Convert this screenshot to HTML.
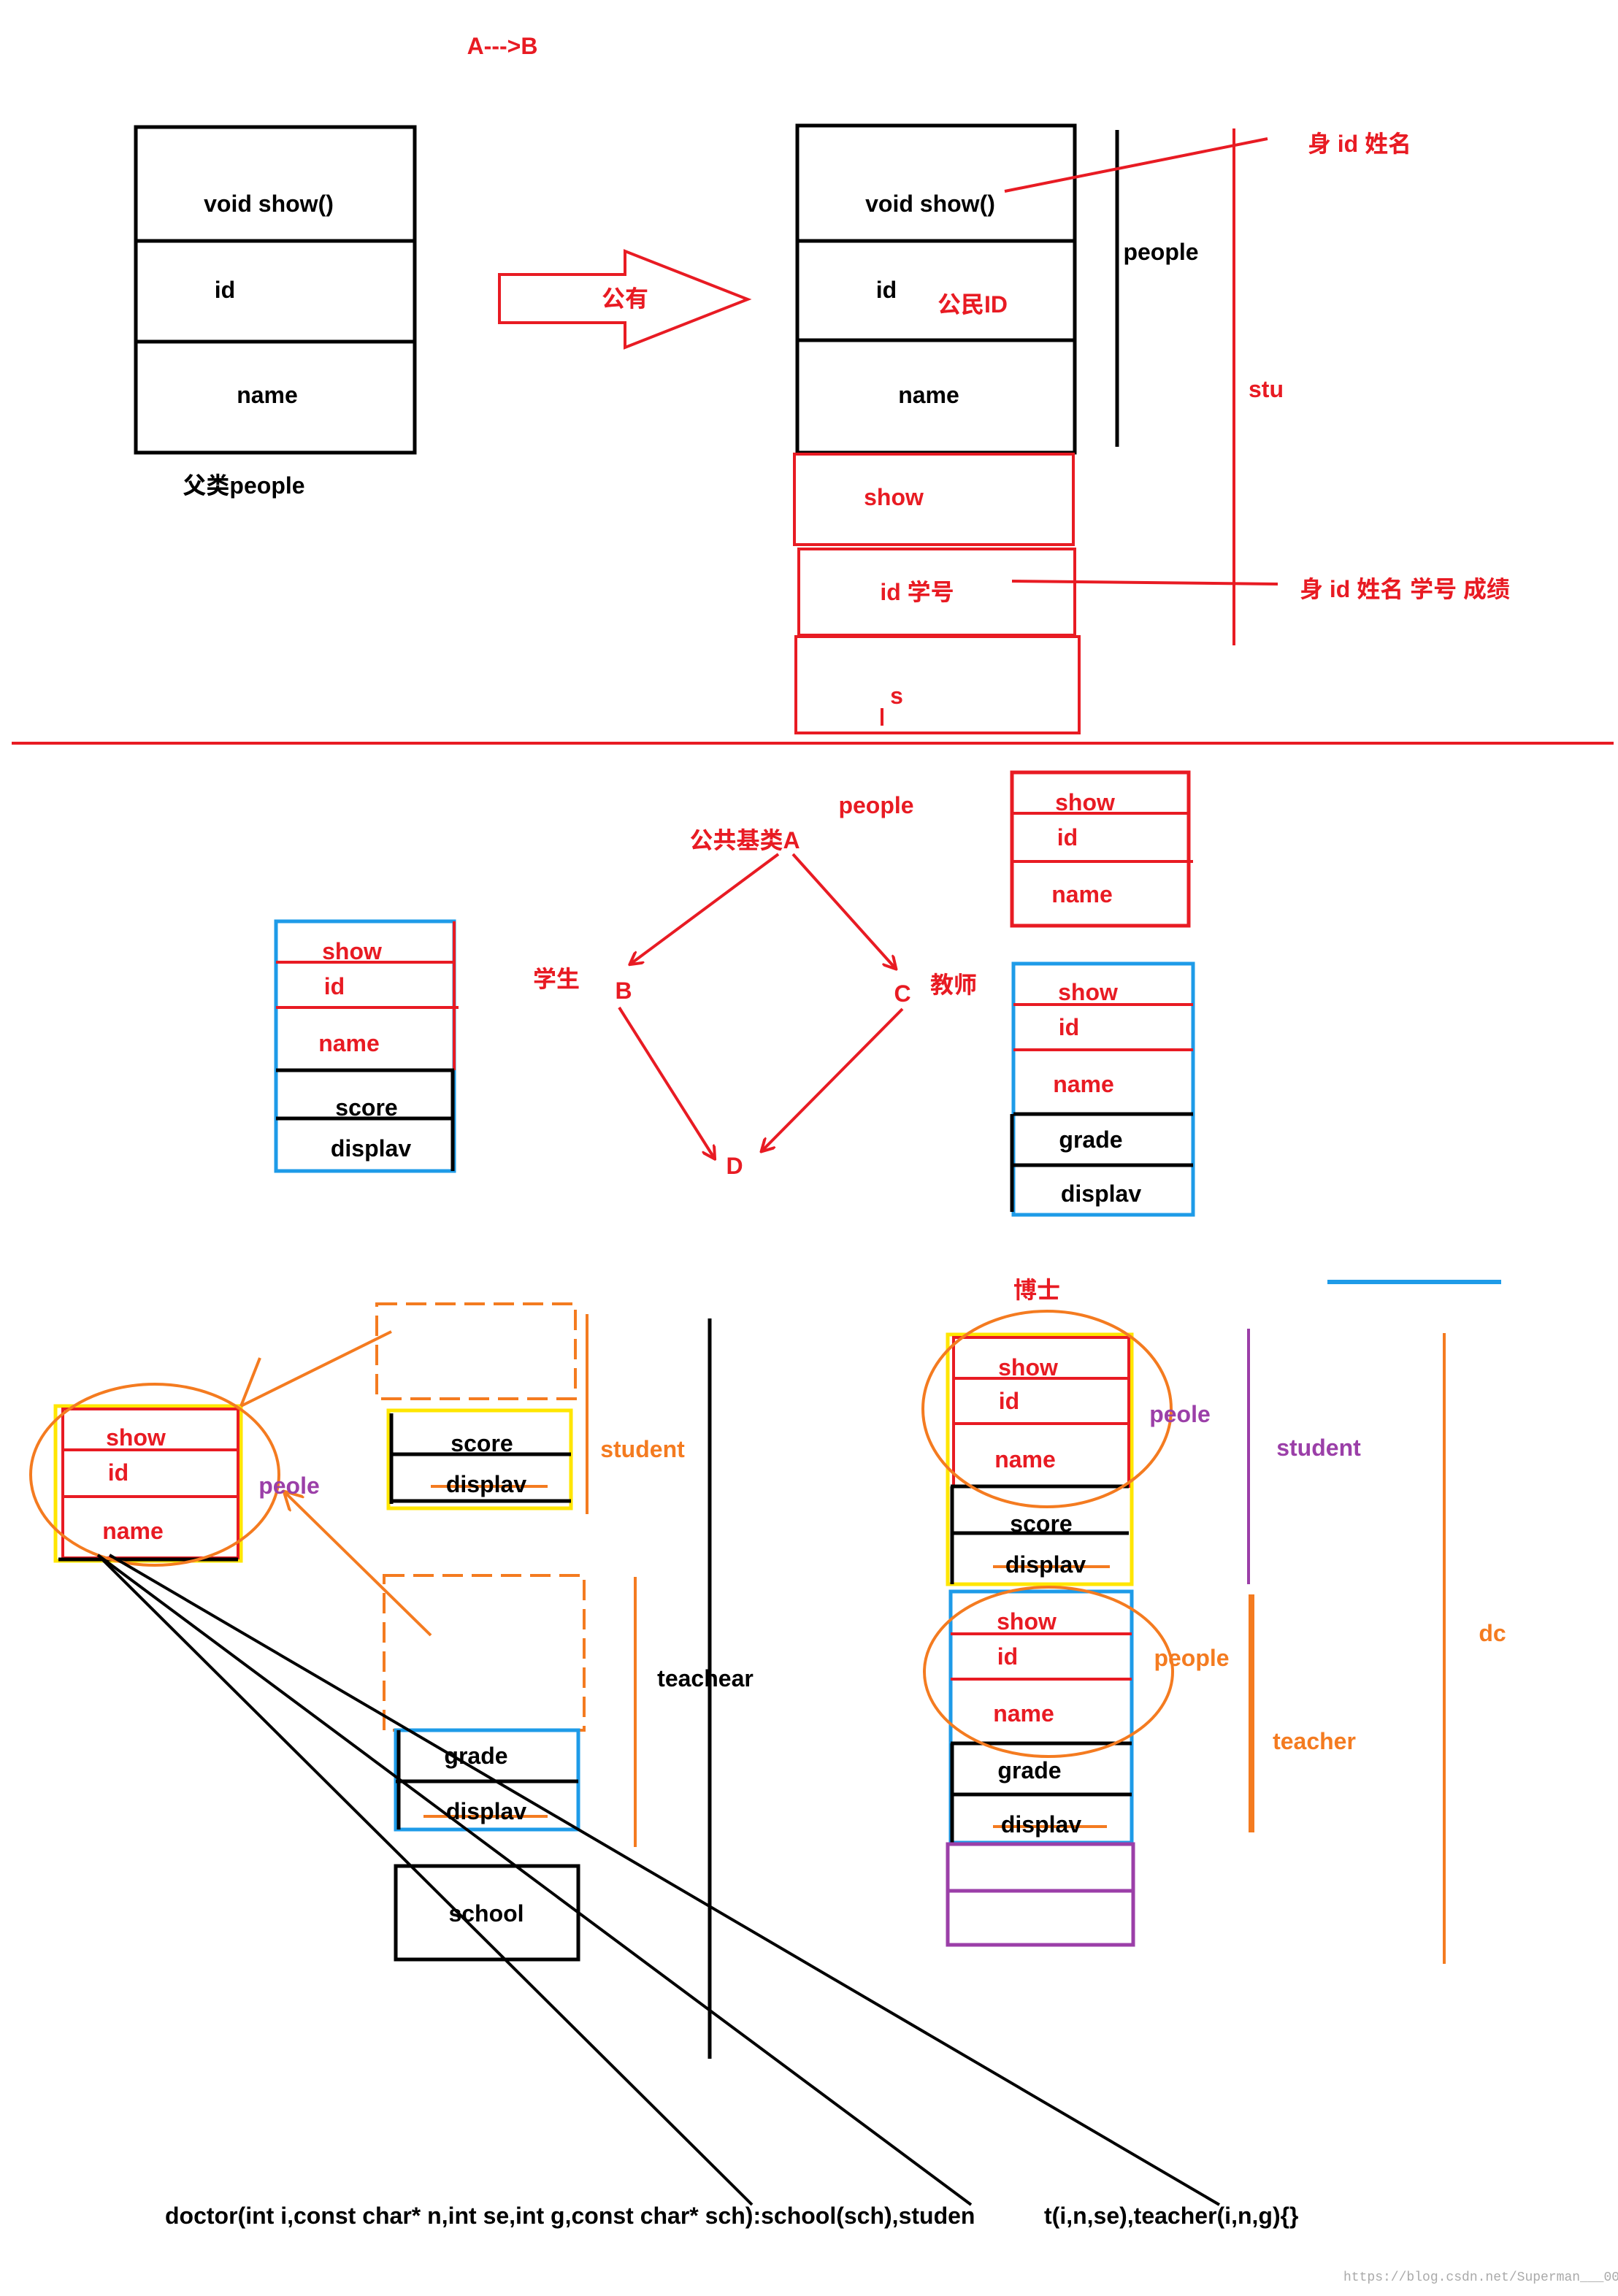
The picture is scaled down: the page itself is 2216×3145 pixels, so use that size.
<!DOCTYPE html>
<html><head><meta charset="utf-8"><style>
html,body{margin:0;padding:0;background:#fff;}
svg{display:block;}
text{font-family:"Liberation Sans","Noto Sans CJK SC",sans-serif;font-weight:bold;font-size:16px;}
</style></head><body>
<svg width="2216" height="3145" viewBox="0 0 1108 1572.5" xmlns="http://www.w3.org/2000/svg">
<defs>
<marker id="ar" markerWidth="10" markerHeight="10" refX="8" refY="5" orient="auto" markerUnits="userSpaceOnUse"><path d="M0,0 L9,5 L0,10" fill="none" stroke="#e81b23" stroke-width="2"/></marker>
<marker id="ao" markerWidth="14" markerHeight="14" refX="12" refY="7" orient="auto" markerUnits="userSpaceOnUse"><path d="M0,0 L13,7 L0,14" fill="none" stroke="#f47b20" stroke-width="2"/></marker>
</defs>
<g fill="none" stroke-width="2.5">
<!-- top -->
<rect x="93" y="87" width="191" height="223" stroke="#000"/>
<line x1="93" y1="165" x2="284" y2="165" stroke="#000"/><line x1="93" y1="234" x2="284" y2="234" stroke="#000"/>
<polygon points="342,188 428,188 428,172 512,205 428,238 428,221 342,221" stroke="#e81b23" stroke-width="2"/>
<rect x="546" y="86" width="190" height="224" stroke="#000"/>
<line x1="546" y1="165" x2="736" y2="165" stroke="#000"/><line x1="546" y1="233" x2="736" y2="233" stroke="#000"/>
<line x1="765" y1="89" x2="765" y2="306" stroke="#000"/>
<line x1="688" y1="131" x2="868" y2="95" stroke="#e81b23" stroke-width="2"/>
<rect x="544" y="311" width="191" height="62" stroke="#e81b23" stroke-width="2"/>
<rect x="547" y="376" width="189" height="59" stroke="#e81b23" stroke-width="2"/>
<rect x="545" y="436" width="194" height="66" stroke="#e81b23" stroke-width="2"/>
<line x1="604" y1="485" x2="604" y2="497" stroke="#e81b23" stroke-width="2"/>
<line x1="693" y1="398" x2="875" y2="400" stroke="#e81b23" stroke-width="2"/>
<line x1="845" y1="88" x2="845" y2="442" stroke="#e81b23" stroke-width="2"/>
<line x1="8" y1="509" x2="1105" y2="509" stroke="#e81b23" stroke-width="2"/>
<!-- middle -->
<line x1="533" y1="585" x2="432" y2="660" stroke="#e81b23" stroke-width="2" marker-end="url(#ar)"/>
<line x1="543" y1="585" x2="613" y2="663" stroke="#e81b23" stroke-width="2" marker-end="url(#ar)"/>
<line x1="424" y1="690" x2="489" y2="793" stroke="#e81b23" stroke-width="2" marker-end="url(#ar)"/>
<line x1="618" y1="691" x2="522" y2="788" stroke="#e81b23" stroke-width="2" marker-end="url(#ar)"/>
<rect x="189" y="631" width="122" height="171" stroke="#1e9be8"/>
<line x1="189" y1="659" x2="311" y2="659" stroke="#e81b23" stroke-width="2"/><line x1="189" y1="690" x2="314" y2="690" stroke="#e81b23" stroke-width="2"/>
<line x1="311" y1="631" x2="311" y2="733" stroke="#e81b23" stroke-width="2"/>
<line x1="189" y1="733" x2="311" y2="733" stroke="#000"/><line x1="189" y1="766" x2="311" y2="766" stroke="#000"/>
<line x1="310" y1="733" x2="310" y2="802" stroke="#000"/>
<rect x="693" y="529" width="121" height="105" stroke="#e81b23"/>
<line x1="693" y1="557" x2="814" y2="557" stroke="#e81b23" stroke-width="2"/><line x1="693" y1="590" x2="817" y2="590" stroke="#e81b23" stroke-width="2"/>
<rect x="694" y="660" width="123" height="172" stroke="#1e9be8"/>
<line x1="694" y1="688" x2="817" y2="688" stroke="#e81b23" stroke-width="2"/><line x1="694" y1="719" x2="817" y2="719" stroke="#e81b23" stroke-width="2"/>
<line x1="694" y1="763" x2="817" y2="763" stroke="#000"/><line x1="694" y1="798" x2="817" y2="798" stroke="#000"/>
<line x1="693" y1="763" x2="693" y2="830" stroke="#000"/>
<!-- bottom left -->
<rect x="38" y="963" width="127" height="106" stroke="#ffe600"/>
<rect x="43" y="965" width="120" height="102" stroke="#e81b23" stroke-width="2"/>
<line x1="43" y1="993" x2="163" y2="993" stroke="#e81b23" stroke-width="2"/><line x1="43" y1="1025" x2="163" y2="1025" stroke="#e81b23" stroke-width="2"/>
<line x1="40" y1="1068" x2="163" y2="1068" stroke="#000"/>
<ellipse cx="106" cy="1010" rx="85" ry="62" stroke="#f47b20" stroke-width="2"/>
<rect x="258" y="893" width="136" height="65" stroke="#f47b20" stroke-width="2" stroke-dasharray="14,6"/>
<rect x="266" y="966" width="125" height="67" stroke="#ffe600"/>
<line x1="268" y1="996" x2="391" y2="996" stroke="#000"/><line x1="268" y1="1028" x2="391" y2="1028" stroke="#000"/>
<line x1="268" y1="968" x2="268" y2="1030" stroke="#000"/>
<line x1="295" y1="1018" x2="375" y2="1018" stroke="#f47b20" stroke-width="2"/>
<line x1="402" y1="900" x2="402" y2="1037" stroke="#f47b20" stroke-width="2"/>
<line x1="165" y1="963" x2="268" y2="912" stroke="#f47b20" stroke-width="2"/>
<line x1="165" y1="963" x2="178" y2="930" stroke="#f47b20" stroke-width="2"/>
<line x1="295" y1="1120" x2="195" y2="1022" stroke="#f47b20" stroke-width="2" marker-end="url(#ao)"/>
<line x1="486" y1="903" x2="486" y2="1410" stroke="#000"/>
<rect x="263" y="1079" width="137" height="106" stroke="#f47b20" stroke-width="2" stroke-dasharray="14,6"/>
<rect x="271" y="1185" width="125" height="68" stroke="#1e9be8"/>
<line x1="271" y1="1220" x2="396" y2="1220" stroke="#000"/><line x1="273" y1="1185" x2="273" y2="1253" stroke="#000"/>
<line x1="290" y1="1244" x2="375" y2="1244" stroke="#f47b20" stroke-width="2"/>
<line x1="435" y1="1080" x2="435" y2="1265" stroke="#f47b20" stroke-width="2"/>
<rect x="271" y="1278" width="125" height="64" stroke="#000"/>
<line x1="67" y1="1065" x2="665" y2="1510" stroke="#000" stroke-width="2"/>
<line x1="70" y1="1068" x2="515" y2="1510" stroke="#000" stroke-width="2"/>
<line x1="75" y1="1065" x2="835" y2="1510" stroke="#000" stroke-width="2"/>
<!-- bottom right -->
<line x1="909" y1="878" x2="1028" y2="878" stroke="#1e9be8" stroke-width="3"/>
<rect x="649" y="914" width="126" height="171" stroke="#ffe600"/>
<rect x="653" y="916" width="120" height="102" stroke="#e81b23" stroke-width="2"/>
<line x1="653" y1="944" x2="773" y2="944" stroke="#e81b23" stroke-width="2"/><line x1="653" y1="975" x2="773" y2="975" stroke="#e81b23" stroke-width="2"/>
<line x1="651" y1="1018" x2="773" y2="1018" stroke="#000"/><line x1="651" y1="1050" x2="773" y2="1050" stroke="#000"/>
<line x1="652" y1="1018" x2="652" y2="1085" stroke="#000"/>
<line x1="680" y1="1073" x2="760" y2="1073" stroke="#f47b20" stroke-width="2"/>
<ellipse cx="717" cy="965" rx="85" ry="67" stroke="#f47b20" stroke-width="2"/>
<line x1="855" y1="910" x2="855" y2="1085" stroke="#9b3fa8" stroke-width="2"/>
<rect x="651" y="1090" width="124" height="172" stroke="#1e9be8"/>
<line x1="651" y1="1119" x2="775" y2="1119" stroke="#e81b23" stroke-width="2"/><line x1="651" y1="1150" x2="775" y2="1150" stroke="#e81b23" stroke-width="2"/>
<line x1="651" y1="1194" x2="775" y2="1194" stroke="#000"/><line x1="651" y1="1229" x2="775" y2="1229" stroke="#000"/>
<line x1="652" y1="1194" x2="652" y2="1262" stroke="#000"/>
<line x1="680" y1="1251" x2="758" y2="1251" stroke="#f47b20" stroke-width="2"/>
<ellipse cx="718" cy="1145" rx="85" ry="58" stroke="#f47b20" stroke-width="2"/>
<rect x="649" y="1263" width="127" height="69" stroke="#9b3fa8"/>
<line x1="649" y1="1295" x2="776" y2="1295" stroke="#9b3fa8"/>
<line x1="857" y1="1092" x2="857" y2="1255" stroke="#f47b20" stroke-width="4"/>
<line x1="989" y1="913" x2="989" y2="1345" stroke="#f47b20" stroke-width="2"/>
</g>
<g text-anchor="middle" fill="#000">
<text x="344" y="37" fill="#e81b23">A---&gt;B</text>
<text x="184" y="145">void show()</text><text x="154" y="204">id</text><text x="183" y="276">name</text>
<text x="167" y="338">父类people</text>
<text x="428" y="210" fill="#e81b23">公有</text>
<text x="637" y="145">void show()</text><text x="607" y="204">id</text><text x="666" y="214" fill="#e81b23">公民ID</text><text x="636" y="276">name</text>
<text x="795" y="178">people</text>
<text x="931" y="104" fill="#e81b23">身 id  姓名</text>
<text x="612" y="346" fill="#e81b23">show</text>
<text x="628" y="411" fill="#e81b23">id  学号</text>
<text x="614" y="482" fill="#e81b23" font-size="13">s</text>
<text x="962" y="409" fill="#e81b23">身 id  姓名 学号  成绩</text>
<text x="867" y="272" fill="#e81b23">stu</text>
<text x="600" y="557" fill="#e81b23">people</text>
<text x="510" y="581" fill="#e81b23">公共基类A</text>
<text x="381" y="676" fill="#e81b23">学生</text><text x="427" y="684" fill="#e81b23">B</text>
<text x="618" y="686" fill="#e81b23">C</text><text x="653" y="680" fill="#e81b23">教师</text>
<text x="503" y="804" fill="#e81b23">D</text>
<text x="241" y="657" fill="#e81b23">show</text><text x="229" y="681" fill="#e81b23">id</text><text x="239" y="720" fill="#e81b23">name</text>
<text x="251" y="764">score</text><text x="254" y="792">displav</text>
<text x="743" y="555" fill="#e81b23">show</text><text x="731" y="579" fill="#e81b23">id</text><text x="741" y="618" fill="#e81b23">name</text>
<text x="745" y="685" fill="#e81b23">show</text><text x="732" y="709" fill="#e81b23">id</text><text x="742" y="748" fill="#e81b23">name</text>
<text x="747" y="786">grade</text><text x="754" y="823">displav</text>
<text x="93" y="990" fill="#e81b23">show</text><text x="81" y="1014" fill="#e81b23">id</text><text x="91" y="1054" fill="#e81b23">name</text>
<text x="198" y="1023" fill="#9b3fa8">peole</text>
<text x="330" y="994">score</text><text x="333" y="1022">displav</text>
<text x="440" y="998" fill="#f47b20">student</text>
<text x="326" y="1208">grade</text><text x="333" y="1246">displav</text>
<text x="483" y="1155">teachear</text>
<text x="333" y="1316">school</text>
<text x="710" y="889" fill="#e81b23">博士</text>
<text x="704" y="942" fill="#e81b23">show</text><text x="691" y="965" fill="#e81b23">id</text><text x="702" y="1005" fill="#e81b23">name</text>
<text x="713" y="1049">score</text><text x="716" y="1077">displav</text>
<text x="808" y="974" fill="#9b3fa8">peole</text>
<text x="903" y="997" fill="#9b3fa8">student</text>
<text x="703" y="1116" fill="#e81b23">show</text><text x="690" y="1140" fill="#e81b23">id</text><text x="701" y="1179" fill="#e81b23">name</text>
<text x="705" y="1218">grade</text><text x="713" y="1255">displav</text>
<text x="816" y="1141" fill="#f47b20">people</text>
<text x="900" y="1198" fill="#f47b20">teacher</text>
<text x="1022" y="1124" fill="#f47b20">dc</text>
</g>
<text x="113" y="1523" fill="#000">doctor(int i,const char* n,int se,int g,const char* sch):school(sch),studen</text>
<text x="715" y="1523" fill="#000">t(i,n,se),teacher(i,n,g){}</text>
<text x="920" y="1562" fill="#aaa" style="font-weight:normal;font-size:9px;font-family:'Liberation Mono',monospace">https://blog.csdn.net/Superman___007</text>
</svg>
</body></html>
